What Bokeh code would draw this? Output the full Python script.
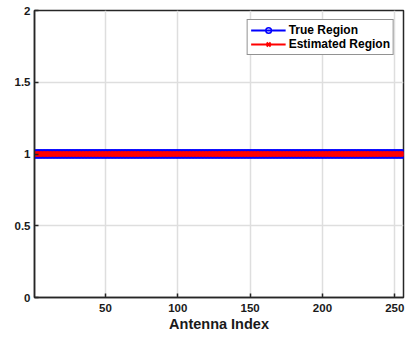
from bokeh.plotting import figure
from bokeh.models import Range1d, FixedTicker, Legend, LegendItem
from bokeh.embed import file_html
from bokeh.resources import INLINE

# Data
antenna_index = list(range(1, 257))
true_region = [1] * 256
estimated_region = [1] * 256
x_ticks = [50, 100, 150, 200, 250]
y_ticks = [0, 0.5, 1, 1.5, 2]
y_tick_labels = ["0", "0.5", "1", "1.5", "2"]

FONT = "Liberation Sans"
AX = "#262626"

p = figure(width=406, height=339, output_backend="svg", toolbar_location=None,
           x_range=Range1d(1, 256), y_range=Range1d(0, 2),
           min_border_left=34, min_border_right=3, min_border_top=10, min_border_bottom=42)
p.background_fill_color = "white"
p.border_fill_color = "white"
p.outline_line_color = AX
p.outline_line_width = 1.5

for ax in (p.xaxis[0], p.yaxis[0]):
    ax.axis_line_color = AX
    ax.axis_line_width = 1.5
    ax.major_tick_line_color = AX
    ax.major_tick_line_width = 1.5
    ax.major_tick_in = 4
    ax.major_tick_out = 0
    ax.minor_tick_line_color = None
    ax.major_label_text_font = FONT
    ax.major_label_text_font_style = "bold"
    ax.major_label_text_font_size = "11.5px"
    ax.major_label_text_color = "#1a1a1a"

xa = p.below[0]
ya = p.left[0]
xa.ticker = FixedTicker(ticks=x_ticks)
ya.ticker = FixedTicker(ticks=y_ticks)
ya.major_label_overrides = {t: l for t, l in zip(y_ticks, y_tick_labels)}
xa.major_label_standoff = 6
ya.major_label_standoff = 4
xa.axis_label = "Antenna Index"
xa.axis_label_text_font = FONT
xa.axis_label_text_font_style = "bold"
xa.axis_label_text_font_size = "14.5px"
xa.axis_label_text_color = "#1a1a1a"
xa.axis_label_standoff = 1

for g in (p.xgrid[0], p.ygrid[0]):
    g.grid_line_color = "#dedede"
    g.grid_line_width = 1.5
p.xgrid[0].ticker = FixedTicker(ticks=x_ticks)
p.ygrid[0].ticker = FixedTicker(ticks=y_ticks)

l1 = p.line(antenna_index, true_region, line_color="blue", line_width=2)
s1 = p.scatter(antenna_index, true_region, marker="circle", size=8,
               line_color="blue", fill_color=None, line_width=1.5)
l2 = p.line(antenna_index, estimated_region, line_color="red", line_width=2)
s2 = p.scatter(antenna_index, estimated_region, marker="x", size=6.5,
               line_color="red", line_width=2)

legend = Legend(items=[LegendItem(label="True Region", renderers=[l1, s1]),
                       LegendItem(label="Estimated Region", renderers=[l2, s2])],
                location="top_right")
legend.margin = 9
legend.padding = 3
legend.spacing = 0
legend.glyph_width = 35
legend.glyph_height = 14
legend.label_height = 14
legend.label_standoff = 3
legend.label_text_font = FONT
legend.label_text_font_style = "bold"
legend.label_text_font_size = "12px"
legend.label_text_color = "black"
legend.border_line_color = AX
legend.border_line_width = 1.2
legend.background_fill_color = "white"
legend.background_fill_alpha = 1
p.add_layout(legend, "center")

open("out.html", "w").write(file_html(p, INLINE))
